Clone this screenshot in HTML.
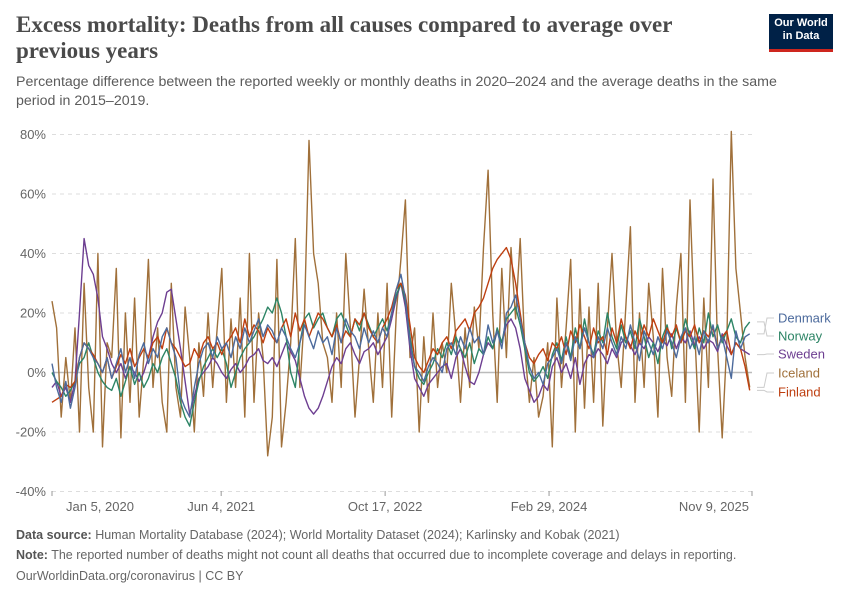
<!DOCTYPE html>
<html><head><meta charset="utf-8"><style>
body{margin:0;width:850px;height:600px;background:#fff;font-family:"Liberation Sans",sans-serif;overflow:hidden;position:relative}
.t{position:absolute;left:16px;top:12px;font-family:"Liberation Serif",serif;font-weight:bold;font-size:23px;line-height:26px;color:#4a4a4a;width:700px}
.s{position:absolute;left:16px;top:73px;font-size:14.2px;line-height:19px;color:#5b5b5b;width:800px}
.logo{position:absolute;left:769px;top:14px;width:64px;height:38px;background:#002147;color:#fff;font-size:11px;font-weight:bold;text-align:center;line-height:13px;padding-top:3px;box-sizing:border-box;border-bottom:3px solid #ce261e}
.f{position:absolute;left:16px;font-size:12.5px;color:#666}
.f b{color:#555}
</style></head><body>
<div class="t">Excess mortality: Deaths from all causes compared to average over previous years</div>
<div class="s">Percentage difference between the reported weekly or monthly deaths in 2020–2024 and the average deaths in the same<br>period in 2015–2019.</div>
<div class="logo">Our World<br>in Data</div>
<svg id="c" width="850" height="600" style="position:absolute;left:0;top:0"></svg>
<div class="f" style="top:528px"><b>Data source:</b> Human Mortality Database (2024); World Mortality Dataset (2024); Karlinsky and Kobak (2021)</div>
<div class="f" style="top:548px"><b>Note:</b> The reported number of deaths might not count all deaths that occurred due to incomplete coverage and delays in reporting.</div>
<div class="f" style="top:569px">OurWorldinData.org/coronavirus | CC BY</div>
<script>
const yTicks=[80,60,40,20,0,-20,-40];
const xTickLabels=["Jan 5, 2020","Jun 4, 2021","Oct 17, 2022","Feb 29, 2024","Nov 9, 2025"];
const xTickDays=[0,516,1016,1516,2135];
const seriesNames=["Iceland","Sweden","Norway","Finland","Denmark"];
const sweden=[-5,-3,-8,-5,-10,-3,20,45,36,33,25,12,8,3,0,3,-2,2,0,-3,0,5,12,17,20,27,28,18,8,-3,-14,-8,-2,0,2,5,3,0,-2,1,3,0,2,5,6,8,4,3,5,2,6,10,7,4,-2,-8,-12,-14,-12,-8,-3,2,5,3,8,10,6,3,7,8,10,6,9,12,18,25,30,22,8,-2,-5,-8,-4,-2,0,2,3,-2,5,8,2,-3,-4,0,6,10,8,14,10,16,18,15,8,-2,-6,-10,-8,-4,-6,2,5,0,3,-2,5,-4,3,6,5,8,6,3,8,5,10,12,9,6,10,8,12,10,7,11,9,13,8,12,10,14,9,12,8,11,10,7,13,9,6,10,8,7,6];
const denmark=[3,-5,-10,-3,-12,-5,5,10,8,5,3,0,5,-2,3,8,0,5,-2,6,10,3,8,5,12,15,10,5,-8,-12,-15,-5,3,8,10,5,12,8,10,5,12,8,15,10,14,18,12,16,14,10,15,12,8,5,10,16,12,8,14,10,12,6,15,10,18,14,12,8,15,10,14,10,15,12,20,28,33,25,10,2,0,-3,2,5,3,0,8,10,6,12,8,15,10,12,6,16,10,14,8,20,22,26,18,10,2,-2,0,-4,3,5,8,3,10,4,12,8,15,10,5,12,8,15,10,6,12,8,16,10,4,14,10,6,12,8,14,10,5,12,15,8,12,6,14,10,16,8,12,5,-2,14,8,12,13];
const norway=[0,-3,-5,-8,-6,-3,3,5,10,5,0,-3,-5,-6,-2,-8,-3,2,-4,0,-5,-2,3,0,5,8,3,-2,-10,-15,-18,-10,-3,2,5,8,5,8,3,-5,0,5,8,10,12,15,18,22,20,25,20,12,0,-5,10,18,20,15,18,20,15,12,18,20,16,12,18,14,20,16,12,15,18,14,20,26,30,24,12,2,-2,-4,0,3,8,5,10,6,12,8,5,10,3,8,6,12,8,15,10,18,20,22,16,8,0,-3,-1,2,-2,6,10,4,12,5,15,8,18,10,6,14,10,20,12,8,16,10,14,8,18,12,5,10,3,12,16,8,15,10,18,12,8,15,10,20,12,16,10,14,18,12,10,15,17];
const finland=[-10,-9,-8,-4,-5,-3,5,10,8,6,3,0,5,-2,2,6,3,8,2,5,8,5,10,12,8,15,10,8,5,2,3,8,5,10,12,8,10,6,10,12,15,10,18,12,16,14,10,15,12,10,15,18,12,20,14,18,12,16,20,18,15,12,16,10,14,12,18,16,20,15,12,10,15,18,22,28,30,26,16,5,2,0,4,8,6,10,12,8,14,16,18,14,20,22,25,30,35,38,40,42,38,30,20,10,5,3,6,8,4,10,8,12,6,14,10,16,12,8,15,10,12,6,15,10,18,12,8,14,10,16,12,18,14,10,15,12,16,10,14,12,16,10,14,12,15,8,12,14,6,10,8,2,-6];
const iceland=[24,15,-15,5,-10,15,-20,30,-5,-20,40,-25,10,5,35,-22,20,-10,25,-15,5,38,-5,15,-10,-20,30,-5,-15,22,5,-20,10,-8,20,-5,15,35,-10,18,-5,25,-15,40,-10,20,5,-28,-15,38,-25,-10,10,45,-5,20,78,40,30,10,5,-10,20,-5,40,15,-15,5,28,8,-10,20,-5,30,-15,20,38,58,5,15,-20,12,-10,20,-5,10,0,30,12,-10,15,-5,22,8,42,68,20,-10,35,5,42,18,45,8,-10,5,-15,-8,10,-25,25,-5,15,38,-20,28,-12,22,-10,30,-18,15,40,10,-5,22,49,-10,20,-5,30,12,-15,35,5,-8,22,40,-10,58,15,-20,25,-5,65,8,-22,10,81,35,20,5,-5];
const stepDays=14;
const X0=52,X1=752,D1=2135;
function xs(d){return X0+(X1-X0)*d/D1}
function ys(v){return 372.5-v*2.975}
const svg=document.getElementById('c');
const NS="http://www.w3.org/2000/svg";
function mk(tag,attrs){const e=document.createElementNS(NS,tag);for(const k in attrs)e.setAttribute(k,attrs[k]);svg.appendChild(e);return e}
yTicks.forEach(v=>{
  const l=mk('line',{x1:52,x2:752,y1:ys(v),y2:ys(v),stroke:v===0?'#bbb':'#ddd','stroke-width':v===0?1.5:1,'stroke-dasharray':v===0?'none':'4,4'});
  
  
  const t=mk('text',{x:46,y:ys(v)+4.5,'text-anchor':'end','font-size':13,fill:'#666'});
  t.textContent=v+'%';
  
  
});
xTickDays.forEach((d,i)=>{
  const x=xs(d);
  const tk=mk('line',{x1:x,x2:x,y1:491,y2:496,stroke:'#999'});
  
  
  const t=mk('text',{x:i===0?x+14:(i===4?x-3:x),y:511,'text-anchor':i===0?'start':(i===4?'end':'middle'),'font-size':13,fill:'#666'});
  t.textContent=xTickLabels[i];
  
  
});
const cols={Denmark:'#4C6A9C',Norway:'#2C8465',Sweden:'#6D3E91',Iceland:'#A0703A',Finland:'#BE3F10'};
const dataMap={Denmark:denmark,Norway:norway,Sweden:sweden,Iceland:iceland,Finland:finland};
seriesNames.forEach(n=>{
  const arr=dataMap[n];
  const pts=arr.map((v,i)=>xs(Math.min(i*stepDays,D1)).toFixed(1)+','+ys(v).toFixed(1)).join(' ');
  const p=mk('polyline',{points:pts,fill:'none',stroke:cols[n],'stroke-width':1.4,'stroke-linejoin':'round'});
  
  
});
const labY={Denmark:318,Norway:336,Sweden:354,Iceland:373,Finland:392};
["Denmark","Norway","Sweden","Iceland","Finland"].forEach(n=>{
  const arr=dataMap[n];const ly=ys(arr[arr.length-1]);
  const c=mk('polyline',{points:`757,${ly} 764,${ly} 767,${labY[n]} 774,${labY[n]}`,fill:'none',stroke:'#ccc','stroke-width':1});
  
  
  const t=mk('text',{x:778,y:labY[n]+4.5,'font-size':13,fill:cols[n]});
  t.textContent=n;
  
  
});
</script>
</body></html>
